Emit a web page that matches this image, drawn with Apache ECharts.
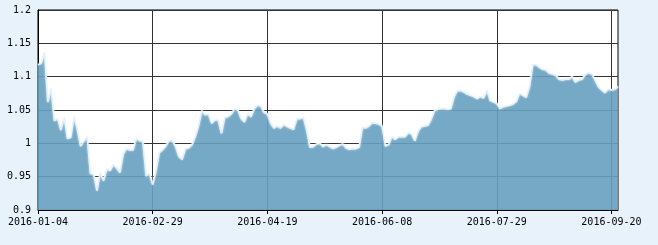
<!DOCTYPE html>
<html>
<head>
<meta charset="utf-8">
<script src="https://cdn.jsdelivr.net/npm/echarts@6/dist/echarts.min.js"></script>
<style>
html,body{margin:0;padding:0;background:#e7f2fb;}
#chart{width:658px;height:245px;}
</style>
</head>
<body>
<div id="chart"></div>
<script>
const dates = [
'2016-01-04','2016-01-05','2016-01-06','2016-01-07','2016-01-08','2016-01-11','2016-01-12','2016-01-13','2016-01-14','2016-01-15',
'2016-01-18','2016-01-19','2016-01-20','2016-01-21','2016-01-22','2016-01-25','2016-01-26','2016-01-27','2016-01-28','2016-01-29',
'2016-02-01','2016-02-02','2016-02-03','2016-02-04','2016-02-05','2016-02-15','2016-02-16','2016-02-17','2016-02-18','2016-02-19',
'2016-02-22','2016-02-23','2016-02-24','2016-02-25','2016-02-26','2016-02-29','2016-03-01','2016-03-02','2016-03-03','2016-03-04',
'2016-03-07','2016-03-08','2016-03-09','2016-03-10','2016-03-11','2016-03-14','2016-03-15','2016-03-16','2016-03-17','2016-03-18',
'2016-03-21','2016-03-22','2016-03-23','2016-03-24','2016-03-25','2016-03-28','2016-03-29','2016-03-30','2016-03-31','2016-04-01',
'2016-04-05','2016-04-06','2016-04-07','2016-04-08','2016-04-11','2016-04-12','2016-04-13','2016-04-14','2016-04-15','2016-04-18',
'2016-04-19','2016-04-20','2016-04-21','2016-04-22','2016-04-25','2016-04-26','2016-04-27','2016-04-28','2016-04-29','2016-05-03',
'2016-05-04','2016-05-05','2016-05-06','2016-05-09','2016-05-10','2016-05-11','2016-05-12','2016-05-13','2016-05-16','2016-05-17',
'2016-05-18','2016-05-19','2016-05-20','2016-05-23','2016-05-24','2016-05-25','2016-05-26','2016-05-27','2016-05-30','2016-05-31',
'2016-06-01','2016-06-02','2016-06-03','2016-06-06','2016-06-07','2016-06-08','2016-06-13','2016-06-14','2016-06-15','2016-06-16',
'2016-06-17','2016-06-20','2016-06-21','2016-06-22','2016-06-23','2016-06-24','2016-06-27','2016-06-28','2016-06-29','2016-06-30',
'2016-07-01','2016-07-04','2016-07-05','2016-07-06','2016-07-07','2016-07-08','2016-07-11','2016-07-12','2016-07-13','2016-07-14',
'2016-07-15','2016-07-18','2016-07-19','2016-07-20','2016-07-21','2016-07-22','2016-07-25','2016-07-26','2016-07-27','2016-07-28',
'2016-07-29','2016-08-01','2016-08-02','2016-08-03','2016-08-04','2016-08-05','2016-08-08','2016-08-09','2016-08-10','2016-08-11',
'2016-08-12','2016-08-15','2016-08-16','2016-08-17','2016-08-18','2016-08-19','2016-08-22','2016-08-23','2016-08-24','2016-08-25',
'2016-08-26','2016-08-29','2016-08-30','2016-08-31','2016-09-01','2016-09-02','2016-09-05','2016-09-06','2016-09-07','2016-09-08',
'2016-09-09','2016-09-12','2016-09-13','2016-09-14','2016-09-19','2016-09-20','2016-09-21','2016-09-22'
];
const values = [
1.118,1.120,1.137,1.062,1.082,1.034,1.037,1.020,1.039,1.007,
1.009,1.040,1.021,0.996,1.003,1.010,0.955,0.953,0.929,0.956,
0.944,0.961,0.959,0.968,0.963,0.956,0.984,0.992,0.990,0.990,
1.007,1.004,1.003,0.951,0.955,0.938,0.958,0.986,0.990,0.996,
1.004,1.004,0.995,0.980,0.976,0.992,0.993,0.998,1.010,1.026,
1.049,1.043,1.044,1.030,1.035,1.035,1.015,1.039,1.040,1.044,
1.052,1.050,1.037,1.032,1.044,1.040,1.052,1.057,1.056,1.046,
1.044,1.030,1.023,1.026,1.023,1.028,1.025,1.023,1.021,1.037,
1.037,1.039,1.020,0.994,0.995,0.999,1.000,0.995,0.998,0.995,
0.992,0.994,0.997,0.999,0.993,0.991,0.992,0.992,0.994,1.024,
1.023,1.026,1.031,1.030,1.029,1.026,0.996,0.998,1.010,1.006,
1.010,1.010,1.010,1.016,1.014,1.004,1.018,1.025,1.026,1.027,
1.036,1.049,1.051,1.052,1.052,1.051,1.052,1.070,1.079,1.079,
1.077,1.074,1.072,1.070,1.067,1.070,1.068,1.080,1.064,1.062,
1.060,1.052,1.055,1.056,1.057,1.059,1.063,1.075,1.072,1.069,
1.085,1.118,1.118,1.114,1.111,1.110,1.105,1.104,1.102,1.096,
1.095,1.096,1.096,1.100,1.092,1.095,1.096,1.103,1.106,1.104,
1.095,1.085,1.080,1.076,1.081,1.080,1.081,1.085
];
const yTicks = {min: 0.9, max: 1.2, interval: 0.05};
const labelStep = 34;

const chart = echarts.init(document.getElementById('chart'), null, {renderer: 'canvas'});
chart.setOption({
  animation: false,
  backgroundColor: '#e7f2fb',
  textStyle: {fontFamily: '"DejaVu Sans Mono", monospace'},
  grid: {
    left: 38, right: 40, top: 10, bottom: 35,
    show: true, backgroundColor: '#ffffff', borderColor: '#000', borderWidth: 1
  },
  xAxis: {
    type: 'category',
    data: dates,
    boundaryGap: false,
    axisLine: {lineStyle: {color: '#000', width: 1}},
    axisTick: {show: true, interval: labelStep, length: 4, lineStyle: {color: '#000'}},
    axisLabel: {interval: labelStep, color: '#000', fontSize: 10, margin: 7,
      fontFamily: '"DejaVu Sans Mono", monospace'},
    splitLine: {show: true, interval: labelStep, lineStyle: {color: '#333', width: 1}}
  },
  yAxis: {
    type: 'value',
    min: yTicks.min, max: yTicks.max, interval: yTicks.interval,
    axisLine: {show: true, lineStyle: {color: '#000', width: 1}},
    axisTick: {show: false},
    axisLabel: {color: '#000', fontSize: 10, margin: 7,
      fontFamily: '"DejaVu Sans Mono", monospace'},
    splitLine: {show: true, lineStyle: {color: '#333', width: 1}}
  },
  series: [{
    type: 'line',
    data: values,
    symbol: 'none',
    smooth: false,
    lineStyle: {color: '#e4f1fb', width: 1.5, shadowColor: 'rgba(255,255,255,0.9)', shadowBlur: 2},
    areaStyle: {color: '#67a0c0', opacity: 0.9},
    z: 3
  }]
});
</script>
</body>
</html>
